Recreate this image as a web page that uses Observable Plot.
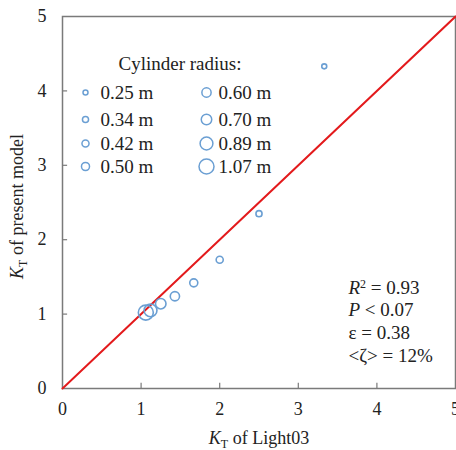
<!DOCTYPE html>
<html>
<head>
<meta charset="utf-8">
<script src="https://cdn.jsdelivr.net/npm/d3@7"></script>
<script src="https://cdn.jsdelivr.net/npm/@observablehq/plot@0.6"></script>
<style>
  html, body { margin: 0; padding: 0; background: #fff; }
</style>
</head>
<body>
<div id="chart"></div>
<script>
// Data
const radii = [0.25, 0.34, 0.42, 0.50, 0.60, 0.70, 0.89, 1.07];
const radiusLabels = ["0.25 m", "0.34 m", "0.42 m", "0.50 m", "0.60 m", "0.70 m", "0.89 m", "1.07 m"];
const ktLight03 = [3.33, 2.50, 2.00, 1.67, 1.43, 1.25, 1.12, 1.06];
const ktModel = [4.33, 2.35, 1.73, 1.42, 1.24, 1.14, 1.05, 1.02];
const xTicks = [0, 1, 2, 3, 4, 5];
const yTicks = [0, 1, 2, 3, 4, 5];
const diagonal = [0, 5];
const stats = ["R2 = 0.93", "P < 0.07", "ε = 0.38", "<ζ> = 12%"];

const points = radii.map((r, i) => ({r, x: ktLight03[i], y: ktModel[i]}));
const legendItems = radii.map((r, i) => ({r, label: radiusLabels[i], col: Math.floor(i / 4), row: i % 4}));

const blue = "#6b9fd3";
const serif = "'Liberation Serif', 'Times New Roman', serif";
const fs = 18;
const fsText = 19;

// legend layout (pixel offsets from top-left of frame)
const legCircleDx = [23, 144];
const legTextDx = [38, 156];
const legRowDy = [76, 103, 127, 150];

const legendMarks = legendItems.flatMap(d => [
  Plot.dot([d], {frameAnchor: "top-left", r: "r", dx: legCircleDx[d.col], dy: legRowDy[d.row], stroke: blue, strokeWidth: 1.5, fill: "none"}),
  Plot.text([d], {frameAnchor: "top-left", text: "label", dx: legTextDx[d.col], dy: legRowDy[d.row], textAnchor: "start", lineAnchor: "middle", fontSize: fsText, fill: "#222"})
]);

const statMarks = stats.map((s, i) => Plot.text([s], {frameAnchor: "top-left", text: d => d, dx: 286, dy: 271 + i * 22.7, textAnchor: "start", lineAnchor: "middle", fontSize: fsText, fill: "#222"}));

const chart = Plot.plot({
  width: 456,
  height: 450,
  marginLeft: 62,
  marginRight: 1,
  marginTop: 16,
  marginBottom: 62,
  style: {fontFamily: serif, fontSize: fs + "px", color: "#222", background: "#fff", overflow: "hidden"},
  x: {domain: [0, 5]},
  y: {domain: [0, 5]},
  r: {type: "linear", domain: [0.25, 1.07], range: [2.5, 7.5]},
  marks: [
    Plot.frame({stroke: "#7a7a7a", strokeWidth: 1.5}),
    Plot.axisX(xTicks, {tickSize: 0, tickPadding: 14, label: null, fontSize: fs, tickFormat: d => d, fill: "#222"}),
    Plot.axisY(yTicks, {tickSize: 0, tickPadding: 16, label: null, fontSize: fs, tickFormat: d => d, fill: "#222"}),
    Plot.ruleX(xTicks.slice(1, 5), {x: d => d, y1: 0, y2: 0.07, stroke: "#7a7a7a", strokeWidth: 1.2}),
    Plot.ruleY(yTicks.slice(1, 5), {y: d => d, x1: 0, x2: 0.065, stroke: "#7a7a7a", strokeWidth: 1.2}),
    Plot.line(diagonal, {x: d => d, y: d => d, stroke: "#e31a1c", strokeWidth: 2}),
    Plot.dot(points, {x: "x", y: "y", r: "r", stroke: blue, strokeWidth: 1.6, fill: "none"}),
    Plot.text(["Cylinder radius:"], {frameAnchor: "top-left", text: d => d, dx: 56, dy: 47, textAnchor: "start", lineAnchor: "middle", fontSize: fsText, fill: "#222"}),
    ...legendMarks,
    ...statMarks,
    Plot.text(["KT of Light03"], {frameAnchor: "bottom", text: d => d, dy: 50, textAnchor: "middle", lineAnchor: "middle", fontSize: fs, fill: "#222"}),
    Plot.text(["KT of present model"], {frameAnchor: "left", text: d => d, dx: -45, dy: 4, rotate: -90, textAnchor: "middle", lineAnchor: "middle", fontSize: fs, fill: "#222"})
  ]
});

document.getElementById("chart").appendChild(chart);

// rich text post-processing
const NS = "http://www.w3.org/2000/svg";
function rebuild(el, parts) {
  while (el.firstChild) el.removeChild(el.firstChild);
  for (const p of parts) {
    const t = document.createElementNS(NS, "tspan");
    t.textContent = p.t;
    if (p.italic) t.setAttribute("font-style", "italic");
    if (p.size) t.setAttribute("font-size", p.size);
    if (p.dy) t.setAttribute("dy", p.dy);
    el.appendChild(t);
  }
}
chart.querySelectorAll("text").forEach(el => {
  const s = el.textContent;
  if (s === "KT of Light03" || s === "KT of present model") {
    rebuild(el, [
      {t: "K", italic: true},
      {t: "T", size: "12px", dy: "0.3em"},
      {t: s.slice(2), dy: "-0.2em"}
    ]);
  } else if (s === "R2 = 0.93") {
    rebuild(el, [
      {t: "R", italic: true},
      {t: "2", size: "12px", dy: "-0.45em"},
      {t: " = 0.93", dy: "0.3em"}
    ]);
  } else if (s === "P < 0.07") {
    rebuild(el, [
      {t: "P", italic: true},
      {t: " < 0.07"}
    ]);
  }
});
</script>
</body>
</html>
